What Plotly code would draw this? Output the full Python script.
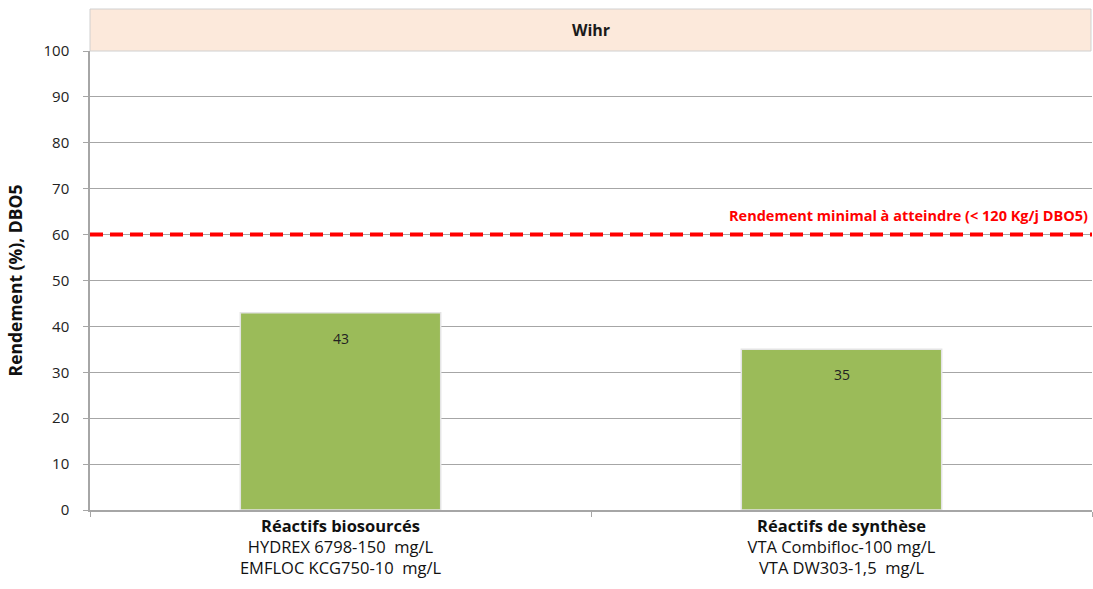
import plotly.graph_objects as go

categories = [
    "<b>Réactifs biosourcés</b><br>HYDREX 6798-150  mg/L<br>EMFLOC KCG750-10  mg/L",
    "<b>Réactifs de synthèse</b><br>VTA Combifloc-100 mg/L<br>VTA DW303-1,5  mg/L",
]
rendement = [43, 35]
seuil = 60
seuil_label = "Rendement minimal à atteindre (< 120 Kg/j DBO5)"
panel_title = "Wihr"
y_ticks = [0, 10, 20, 30, 40, 50, 60, 70, 80, 90, 100]

font_family = "Open Sans, Noto Sans, sans-serif"
grid_col = "#A6A6A6"

fig = go.Figure()
fig.add_trace(go.Bar(
    x=categories,
    y=rendement,
    width=0.4,
    marker=dict(color="#9BBB59", line=dict(color="#E4E4E4", width=1.5)),
    showlegend=False,
    hoverinfo="skip",
))

# value labels inside the top of each bar
for cat, v in zip(categories, rendement):
    fig.add_annotation(x=cat, y=v, text=str(v), showarrow=False,
                       yanchor="top", yshift=-14,
                       font=dict(family=font_family, size=14, color="#222222"))

# minimum-yield reference line
fig.add_shape(type="line", xref="paper", yref="y", x0=0, x1=1, y0=seuil, y1=seuil,
              line=dict(color="#FF0000", width=4, dash="13px,7px"), layer="above")
fig.add_annotation(xref="paper", yref="y", x=0.998, y=seuil, text=f"<b>{seuil_label}</b>",
                   showarrow=False, xanchor="right", yanchor="bottom", yshift=8,
                   font=dict(family=font_family, size=14.5, color="#FF0000"))

# facet header strip
fig.add_shape(type="rect", xref="paper", yref="paper", x0=0, x1=0.999, y0=1, y1=1 + 42 / 459,
              fillcolor="#FCE9DB", line=dict(color="#D0D0D0", width=1))
fig.add_annotation(xref="paper", yref="paper", x=0.5, y=1 + 21 / 459, yanchor="middle",
                   text=f"<b>{panel_title}</b>", showarrow=False,
                   font=dict(family=font_family, size=16, color="#1A1A1A"))

fig.update_layout(
    width=1093, height=589,
    margin=dict(l=90, r=1, t=51, b=79),
    plot_bgcolor="white", paper_bgcolor="white",
    bargap=0.6,
    font=dict(family=font_family, size=13, color="#222222"),
)
fig.update_yaxes(
    range=[0, 100], tickvals=y_ticks, showgrid=True, gridcolor=grid_col, gridwidth=1,
    showline=True, linecolor=grid_col, linewidth=1.5, ticks="outside", ticklen=5,
    tickcolor=grid_col, zeroline=False, ticklabelstandoff=11,
    title=dict(text="<b>Rendement (%), DBO5</b>", standoff=16,
               font=dict(family=font_family, size=17.5, color="#111111")),
    tickfont=dict(family=font_family, size=15, color="#222222"),
)
fig.update_xaxes(
    showline=True, linecolor=grid_col, linewidth=1.5, ticks="outside", ticklen=5,
    tickcolor=grid_col, tickson="boundaries", showgrid=False,
    tickfont=dict(family=font_family, size=16.5, color="#111111"),
)

fig.write_html("out.html")
